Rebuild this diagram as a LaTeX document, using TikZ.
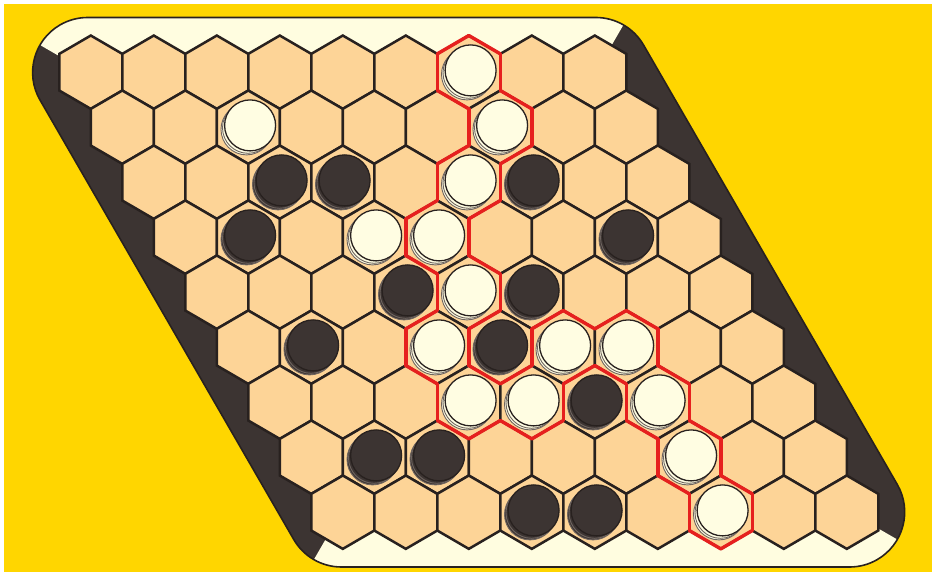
\documentclass[tikz,border=0pt]{standalone}
\definecolor{bgyellow}{RGB}{255,214,0}
\definecolor{darkedge}{RGB}{60,52,50}
\definecolor{creamedge}{RGB}{255,253,224}
\definecolor{hexfill}{RGB}{253,212,151}
\definecolor{lineblk}{RGB}{40,33,31}
\definecolor{redpath}{RGB}{230,32,30}
\definecolor{stonewhite}{RGB}{255,253,226}
\definecolor{stoneblack}{RGB}{60,52,50}
\definecolor{ringgray}{RGB}{110,100,95}
\tikzset{
  hexcell/.style={fill=hexfill, draw=lineblk, line width=2.5pt, line join=miter},
  redline/.style={draw=redpath, line width=3.4pt, line cap=round},
  ringline/.style={draw=ringgray, line width=0.9pt},
  stoneline/.style={draw=lineblk, line width=1.3pt},
}
\def\boardpath{(40,100) arc[start angle=150,end angle=270,radius=55] -- (595.9,17.5) arc[start angle=270,end angle=330,radius=55] -- (897.3,484.5) arc[start angle=-30,end angle=90,radius=55] -- (341.4,567) arc[start angle=90,end angle=150,radius=55] -- cycle}
\begin{document}
\begin{tikzpicture}[x=1pt,y=-1pt]
\useasboundingbox (0,0) rectangle (932,572);
\fill[white] (0,0) rectangle (932,572);
\fill[bgyellow] (4,4) rectangle (932,572);
% board frame
\fill[darkedge] \boardpath;
\begin{scope}
  \clip \boardpath;
  \fill[creamedge] (-7.7,17.5) -- (627.7,17.5) -- (468.65,292.25) -- cycle;
  \fill[creamedge] (309.6,567) -- (945,567) -- (468.65,292.25) -- cycle;
\end{scope}
\draw[lineblk, line width=1.6pt] \boardpath;
% hex cells
\foreach \row in {0,...,8} {
  \foreach \col in {0,...,8} {
    \pgfmathsetmacro\cx{90.8+63*\col+31.5*\row}
    \pgfmathsetmacro\cy{72.2+55*\row}
    \path[hexcell] (\cx,\cy) +(0,-36.67) -- +(31.5,-18.33) -- +(31.5,18.33) -- +(0,36.67) -- +(-31.5,18.33) -- +(-31.5,-18.33) -- cycle;
  }
}
% winning chain (red outline)
\foreach \row/\col in {0/6,1/6,2/5,3/4,4/4,5/3,6/3,6/4,5/5,5/6,6/6,7/6,8/6} {
  \expandafter\gdef\csname ch@\row @\col\endcsname{}
}
\foreach \row/\col in {0/6,1/6,2/5,3/4,4/4,5/3,6/3,6/4,5/5,5/6,6/6,7/6,8/6} {
  \pgfmathsetmacro\cx{90.8+63*\col+31.5*\row}
  \pgfmathsetmacro\cy{72.2+55*\row}
  \foreach \dr/\dc/\ax/\ay/\bx/\by in {-1/1/0/-36.67/31.5/-18.33, 0/1/31.5/-18.33/31.5/18.33, 1/0/31.5/18.33/0/36.67, 1/-1/0/36.67/-31.5/18.33, 0/-1/-31.5/18.33/-31.5/-18.33, -1/0/-31.5/-18.33/0/-36.67} {
    \pgfmathtruncatemacro\nr{\row+\dr}
    \pgfmathtruncatemacro\nc{\col+\dc}
    \ifcsname ch@\nr @\nc\endcsname\else
      \draw[redline] (\cx+\ax,\cy+\ay) -- (\cx+\bx,\cy+\by);
    \fi
  }
}
% white stones
\foreach \row/\col in {0/6,1/2,1/6,2/5,3/3,3/4,4/4,5/3,5/5,5/6,6/3,6/4,6/6,7/6,8/6} {
  \pgfmathsetmacro\cx{90.8+63*\col+31.5*\row}
  \pgfmathsetmacro\cy{72.2+55*\row}
  \path[ringline, fill=stonewhite] (\cx-1.8,\cy+2.2) circle[radius=25.5];
  \path[ringline, fill=stonewhite] (\cx-0.3,\cy+0.6) circle[radius=25.5];
  \path[stoneline, fill=stonewhite] (\cx+1.8,\cy-1.8) circle[radius=25.5];
}
% black stones
\foreach \row/\col in {2/2,2/3,2/6,3/1,3/7,4/3,4/5,5/1,5/4,6/5,7/1,7/2,8/3,8/4} {
  \pgfmathsetmacro\cx{90.8+63*\col+31.5*\row}
  \pgfmathsetmacro\cy{72.2+55*\row}
  \path[ringline, fill=stoneblack] (\cx-1.8,\cy+2.2) circle[radius=25.5];
  \path[ringline, fill=stoneblack] (\cx-0.3,\cy+0.6) circle[radius=25.5];
  \path[stoneline, fill=stoneblack] (\cx+1.8,\cy-1.8) circle[radius=25.5];
}
\end{tikzpicture}
\end{document}
